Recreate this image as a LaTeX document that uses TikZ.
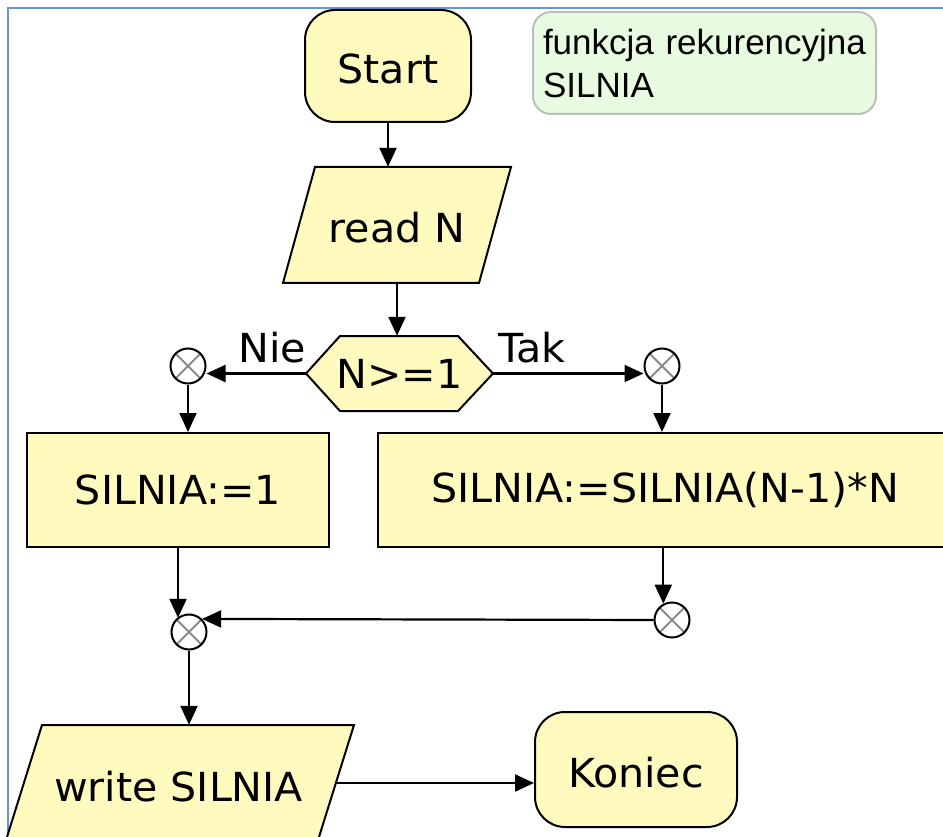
\documentclass[tikz,border=0pt]{standalone}
\usepackage{fontspec}
\setmainfont{DejaVu Sans}[FakeStretch=1.03]
\newfontfamily\cmtfont{Liberation Sans}
\usetikzlibrary{arrows.meta,calc}
\definecolor{boxyellow}{HTML}{FFFBBF}
\definecolor{cmtgreen}{HTML}{E8FBE0}
\definecolor{cmtborder}{HTML}{BDBDBD}
\definecolor{framebl}{HTML}{6A96D0}
\begin{document}
\begin{tikzpicture}[x=1pt,y=-1pt,
  txt/.style={font=\fontsize{40}{46}\selectfont},
  shapeline/.style={draw=black, fill=boxyellow, line width=2pt},
  term/.style={shapeline, txt, rounded corners=30pt, minimum width=#1, minimum height=114pt, inner sep=0pt,
    text height=36pt, text depth=0pt},
  proc/.style={shapeline, txt, minimum width=#1, minimum height=114pt, inner sep=0pt},
  ghost/.style={txt, inner sep=0pt},
  joint/.style={circle, draw=black, fill=white, line width=2pt, minimum size=35pt, inner sep=0pt,
    path picture={\draw[black!45, line width=2pt]
      (path picture bounding box.north west) -- (path picture bounding box.south east)
      (path picture bounding box.north east) -- (path picture bounding box.south west);}},
  arr/.style={line width=2.2pt, -{Triangle[length=19pt,width=17pt]}},
  lbl/.style={txt, inner sep=0pt}
]
\useasboundingbox (0,0) rectangle (943,837);
\begin{scope}
\clip (0,0) rectangle (943,837);
% frame
\draw[framebl, line width=2pt] (8,840) -- (8,8) -- (945,8);
% comment
\node[draw=cmtborder, fill=cmtgreen, line width=2pt, rounded corners=18pt,
      minimum width=343pt, minimum height=102pt, text width=323pt, inner xsep=10pt,
      align=left, font=\cmtfont\fontsize{35}{43}\selectfont] (cmt) at (704.5,63)
      {funkcja rekurencyjna\\SILNIA};
% start
\node[term=166pt, minimum height=112pt] (start) at (388,66) {Start};
% read N
\draw[shapeline] (315,167) -- (511,167) -- (479,283) -- (283,283) -- cycle;
\node[ghost, minimum width=196pt, minimum height=116pt, text height=36pt, text depth=0pt] (rn) at (397,225) {read N};
% decision
\draw[shapeline] (306,373.5) -- (340,336) -- (458,336) -- (493,373.5) -- (458,411) -- (340,411) -- cycle;
\node[ghost, minimum width=187pt, minimum height=75pt] (hx) at (399.5,373.5) {N>=1};
% joints
\node[joint] (cL) at (188,366) {};
\node[joint] (cR) at (662,366) {};
\node[joint] (cM) at (189,632) {};
\node[joint] (cN) at (672,620) {};
% process boxes
\node[proc=302pt] (b1) at (178,490) {SILNIA:=1};
\node[proc=574pt] (b2) at (665,490) {SILNIA:=SILNIA(N-1)*N};
% write
\draw[shapeline] (42,725) -- (354,725) -- (315.25,849) -- (3.25,849) -- cycle;
\node[ghost, minimum width=312pt, minimum height=124pt] (wr) at (178.6,787) {write SILNIA};
% end
\node[term=202pt, minimum height=115pt] (ko) at (636,769.5) {Koniec};
% labels
\node[lbl] (nie) at (272,348) {Nie};
\node[lbl] (tak) at (532,348) {Tak};
% connectors
\draw[arr] (start.south) -- (start.south |- rn.north);
\draw[arr] (rn.south) -- (rn.south |- hx.north);
\draw[arr] (hx.west) -- (hx.west -| cL.east);
\draw[arr] (hx.east) -- (hx.east -| cR.west);
\draw[arr] (cL.south) -- (cL.south |- b1.north);
\draw[arr] (cR.south) -- (cR.south |- b2.north);
\draw[arr] (b1.south) -- (b1.south |- cM.130);
\draw[arr] (cN.118 |- b2.south) -- (cN.118);
\draw[arr] (cN.west) -- (cM.45);
\draw[arr] (cM.south) -- (cM.south |- wr.north);
\draw[arr] ([yshift=4pt]wr.east) -- ([yshift=4pt]wr.east -| ko.west);
\end{scope}
\end{tikzpicture}
\end{document}
